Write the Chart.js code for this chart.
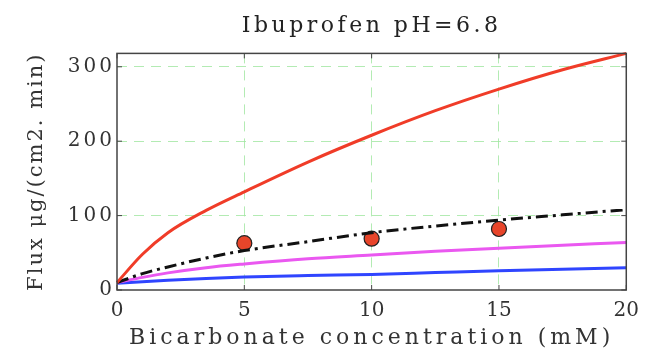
<!DOCTYPE html>
<html>
<head>
<meta charset="utf-8">
<script src="https://cdn.jsdelivr.net/npm/chart.js@4.4.1/dist/chart.umd.min.js"></script>
<style>
    html, body { margin: 0; padding: 0; background: #fff; }
    #wrap { width: 648px; height: 357px; }
</style>
</head>
<body>
<div id="wrap"><canvas id="fluxChart" width="648" height="357"></canvas></div>
<script>
// Bicarbonate concentration (mM) where the curves were read
const concentrations = [0, 1, 2, 3.5, 5, 7.5, 10, 12.5, 15, 17.5, 20];

// Model curves, flux in ug/(cm2 min)
const redCurve     = [10, 48, 77, 107, 132, 172, 208, 241, 270, 296, 318];
const blackCurve   = [10, 22, 31, 43, 53, 65, 77, 86, 94, 101, 108];
const magentaCurve = [10, 17, 23, 30, 35, 42, 47, 52, 56, 60, 64];
const blueCurve    = [9, 11, 13, 15.5, 17.5, 19.5, 21, 23.5, 26, 28, 30];

// Measured fluxes
const measuredConc = [5, 10, 15];
const measuredFlux = [63, 69, 82];

// Axis ticks
const xTicks = [0, 5, 10, 15, 20];
const yTicks = [0, 100, 200, 300];

const FONT = "'DejaVu Serif', serif";

function toPoints(xs, ys) {
    return xs.map((x, i) => ({ x: x, y: ys[i] }));
}

function curve(label, values, color, dash) {
    return {
        label: label,
        data: toPoints(concentrations, values),
        borderColor: color,
        borderWidth: 3,
        borderDash: dash || [],
        pointRadius: 0,
        cubicInterpolationMode: 'monotone',
        fill: false,
        clip: false
    };
}

// the reference lettering is very wide, so every text gets its own spacing
function withSpacing(obj, method, spacing) {
    if (!obj || obj['_sp_' + method]) return;
    const orig = obj[method];
    obj[method] = function() {
        const ctx = this.ctx;
        const prev = ctx.letterSpacing;
        ctx.letterSpacing = spacing;
        const res = orig.apply(this, arguments);
        ctx.letterSpacing = prev;
        return res;
    };
    obj['_sp_' + method] = true;
}

const letterPlugin = {
    id: 'letters',
    beforeDraw: function(chart) {
        withSpacing(chart.titleBlock, 'draw', '3.5px');
        withSpacing(chart.scales.x, 'drawLabels', '0px');
        withSpacing(chart.scales.x, 'drawTitle', '4px');
        withSpacing(chart.scales.y, 'drawLabels', '3px');
        withSpacing(chart.scales.y, 'drawTitle', '2px');
    }
};

// box around the plot with inward ticks on all four sides
const boxPlugin = {
    id: 'box',
    afterDatasetsDraw: function(chart) {
        const ctx = chart.ctx;
        const a = chart.chartArea;
        const xs = chart.scales.x;
        const ys = chart.scales.y;
        ctx.save();
        ctx.strokeStyle = '#444';
        ctx.lineWidth = 1.5;
        ctx.strokeRect(a.left, a.top, a.right - a.left, a.bottom - a.top);
        ctx.lineWidth = 1;
        ctx.beginPath();
        xTicks.forEach(v => {
            const px = xs.getPixelForValue(v);
            ctx.moveTo(px, a.bottom); ctx.lineTo(px, a.bottom - 5);
            ctx.moveTo(px, a.top); ctx.lineTo(px, a.top + 5);
        });
        yTicks.forEach(v => {
            const py = ys.getPixelForValue(v);
            ctx.moveTo(a.left, py); ctx.lineTo(a.left + 5, py);
            ctx.moveTo(a.right, py); ctx.lineTo(a.right - 5, py);
        });
        ctx.stroke();
        ctx.restore();
    }
};

function gridColor(ctx) {
    const v = ctx.tick ? ctx.tick.value : null;
    if (v === ctx.scale.min || v === ctx.scale.max) return 'rgba(0,0,0,0)';
    return 'rgba(160,230,160,0.8)';
}

new Chart(document.getElementById('fluxChart'), {
    type: 'line',
    data: {
        datasets: [
            curve('red', redCurve, '#f03c28'),
            curve('black', blackCurve, '#111111', [12, 5, 3, 5]),
            curve('magenta', magentaCurve, '#ea58f0'),
            curve('blue', blueCurve, '#2f45ff'),
            {
                label: 'measured',
                data: toPoints(measuredConc, measuredFlux),
                showLine: false,
                pointStyle: 'circle',
                pointRadius: 7.5,
                pointBackgroundColor: '#e8452a',
                pointBorderColor: '#222',
                pointBorderWidth: 1.2
            },
            {
                label: 'measured bar',
                data: toPoints(measuredConc, measuredFlux),
                showLine: false,
                pointStyle: 'line',
                pointRadius: 7.5,
                pointBorderColor: '#222',
                pointBorderWidth: 1.5
            }
        ]
    },
    options: {
        responsive: false,
        animation: false,
        devicePixelRatio: 1,
        layout: {
            padding: { top: 0, right: 20, bottom: 0, left: 0 }
        },
        plugins: {
            legend: { display: false },
            tooltip: { enabled: false },
            title: {
                display: true,
                fullSize: false,
                text: 'Ibuprofen pH=6.8',
                color: '#222',
                font: { family: FONT, size: 22, weight: 'normal' },
                padding: { top: 13, bottom: 14 }
            }
        },
        scales: {
            x: {
                type: 'linear',
                min: 0,
                max: 20,
                afterBuildTicks: function(scale) {
                    scale.ticks = xTicks.map(v => ({ value: v }));
                },
                afterFit: function(scale) {
                    scale.height = 67;
                },
                grid: {
                    color: gridColor,
                    lineWidth: 1,
                    drawTicks: false
                },
                border: { display: false, dash: [10, 7] },
                ticks: {
                    color: '#333',
                    padding: 9,
                    font: { family: FONT, size: 20 }
                },
                title: {
                    display: true,
                    text: 'Bicarbonate concentration (mM)',
                    color: '#333',
                    font: { family: FONT, size: 22 },
                    padding: { top: 0, bottom: 6 }
                }
            },
            y: {
                type: 'linear',
                min: 0,
                max: 318,
                afterBuildTicks: function(scale) {
                    scale.ticks = yTicks.map(v => ({ value: v }));
                },
                afterFit: function(scale) {
                    scale.width = 117;
                },
                grid: {
                    color: gridColor,
                    lineWidth: 1,
                    drawTicks: false
                },
                border: { display: false, dash: [10, 7] },
                ticks: {
                    color: '#333',
                    padding: 2,
                    font: { family: FONT, size: 20 }
                },
                title: {
                    display: true,
                    text: 'Flux μg/(cm2. min)',
                    color: '#333',
                    font: { family: FONT, size: 21 },
                    padding: { top: 24, bottom: 0 }
                }
            }
        }
    },
    plugins: [letterPlugin, boxPlugin]
});
</script>
</body>
</html>
